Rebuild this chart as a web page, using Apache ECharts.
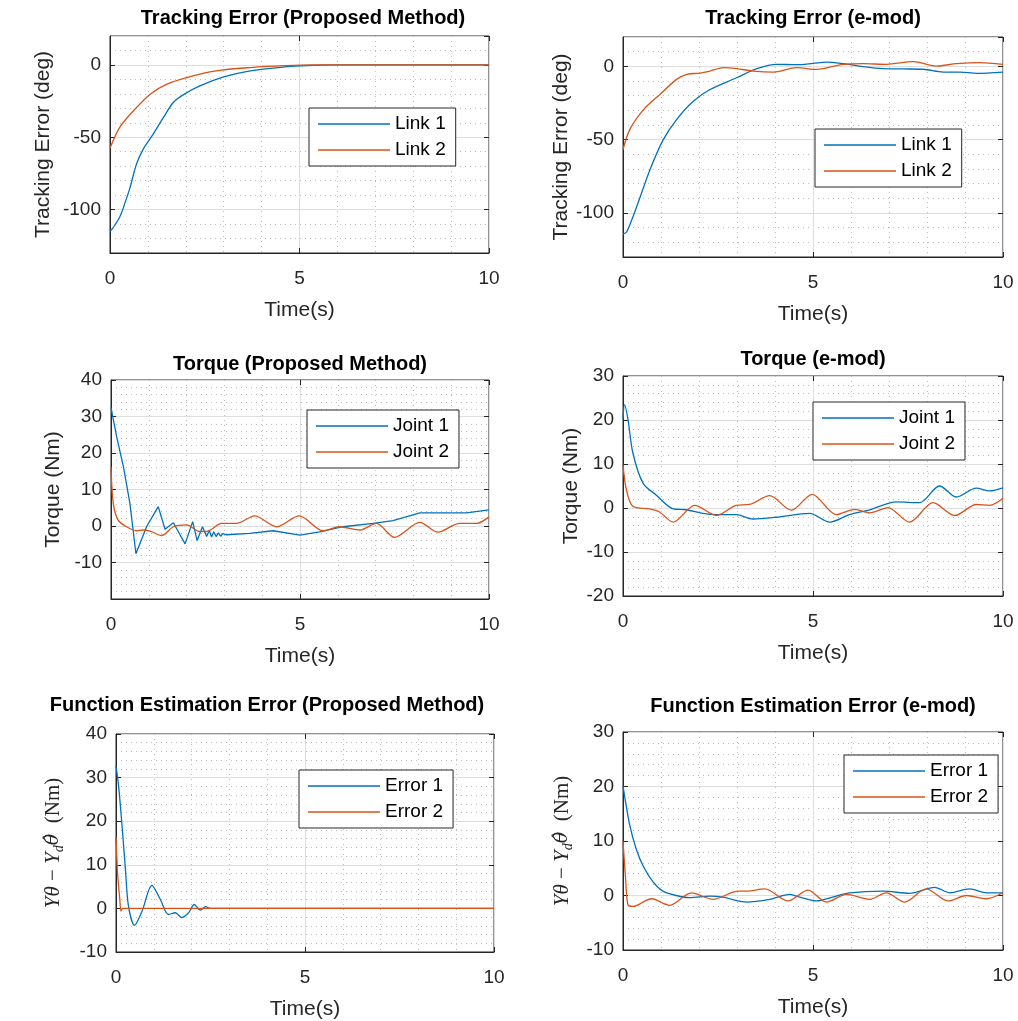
<!DOCTYPE html>
<html>
<head>
<meta charset="utf-8">
<script src="https://cdn.jsdelivr.net/npm/echarts@6/dist/echarts.min.js"></script>
<style>
html, body { margin: 0; padding: 0; background: #fff; }
#chart { width: 1018px; height: 1021px; }
</style>
</head>
<body>
<div id="chart"></div>
<script>
// ---- data ----
// Tracking error, proposed method
var tA1 = [0, 0.07, 0.26, 0.4, 0.53, 0.7, 0.88, 1.14, 1.41, 1.67, 1.93, 2.37, 3.0, 3.7, 4.6, 5.2, 6, 10];
var link1A = [-115, -113, -105, -95, -84.6, -68.5, -58, -47.8, -36.3, -26, -20.7, -14.5, -8.3, -4.1, -1.4, -0.4, 0, 0];
var tA2 = [0, 0.26, 0.62, 1.06, 1.5, 2.02, 2.8, 3.7, 4.6, 5.5, 10];
var link2A = [-57.5, -43, -31.7, -20.2, -13.3, -8.7, -4.1, -1.8, -0.5, 0, 0];

// Tracking error, e-mod
var tB1 = [0, 0.1, 0.36, 0.71, 1.06, 1.41, 1.85, 2.29, 2.99, 3.52, 4.04, 4.57, 5.0, 5.36, 5.8, 6.32, 6.85, 7.38, 7.9, 8.43, 8.87, 9.31, 10];
var link1B = [-114.4, -112.8, -95.7, -70.5, -50, -36.3, -23.8, -15.8, -7.8, -1.6, 1.4, 1.1, 2.0, 2.9, 1.8, -0.2, -1.6, -1.8, -2.0, -3.9, -3.9, -4.8, -3.9];
var tB2 = [0, 0.18, 0.54, 0.97, 1.41, 1.68, 2.03, 2.29, 2.64, 2.99, 3.43, 3.96, 4.57, 5.1, 5.8, 6.32, 6.93, 7.64, 8.25, 8.78, 9.39, 10];
var link2B = [-56.8, -43, -29.5, -19.2, -8.9, -5.5, -4.6, -3.2, -0.9, -1.6, -3.2, -3.9, -0.9, -2.1, 1.4, 1.8, 1.4, 3.2, 0.2, 1.8, 2.5, 1.4];

// Torque, proposed method
var tC1 = [0, 0.15, 0.33, 0.5, 0.66, 0.94, 1.25, 1.43, 1.65, 1.96, 2.16, 2.28, 2.42, 2.53, 2.6, 2.66, 2.72, 2.78, 2.84, 2.9, 2.96, 3.06, 3.67, 4.29, 5.0, 5.52, 6.14, 6.93, 7.46, 8.17, 8.96, 9.4, 10];
var joint1C = [32.5, 24.4, 16.2, 6.2, -7.6, -0.2, 5.3, -0.9, 0.9, -4.9, 1.2, -4.0, -0.2, -2.9, -1.2, -3.0, -1.6, -2.9, -1.9, -2.8, -2.1, -2.4, -2.0, -1.3, -2.5, -1.6, -0.2, 0.7, 1.5, 3.6, 3.6, 3.6, 4.4];
var tC2 = [0, 0.06, 0.19, 0.41, 0.68, 0.85, 1.05, 1.34, 1.65, 2.0, 2.35, 2.53, 2.93, 3.32, 3.8, 4.38, 4.98, 5.61, 6.05, 6.58, 7.02, 7.5, 8.17, 8.65, 9.22, 9.67, 10];
var joint2C = [16.2, 6.2, 1.6, -0.2, -1.3, -1.1, -1.5, -2.6, -0.2, 0.3, -1.5, -1.5, 0.7, 0.7, 2.8, -0.2, 2.8, -1.3, -0.2, -1.1, 0.7, -3.1, 1.0, -1.7, 0.7, 0.7, 2.5];

// Torque, e-mod
var tD1 = [0, 0.04, 0.13, 0.26, 0.53, 0.88, 1.32, 1.67, 2.1, 2.46, 2.98, 3.42, 4.04, 4.91, 5.44, 5.96, 6.49, 7.19, 7.8, 8.33, 8.77, 9.3, 9.65, 10];
var joint1D = [20.2, 23.5, 20.2, 12.5, 5.6, 2.9, -0.2, -0.4, -1.2, -1.5, -1.5, -2.5, -2.1, -1.2, -3.2, -1.5, -0.4, 1.4, 1.2, 5.0, 2.5, 4.5, 3.9, 4.6];
var tD2 = [0, 0.09, 0.26, 0.7, 0.96, 1.32, 1.89, 2.46, 2.98, 3.33, 3.86, 4.43, 4.98, 5.61, 6.1, 6.49, 6.97, 7.54, 8.16, 8.73, 9.3, 9.65, 10];
var joint2D = [9.8, 4.1, 0.4, -0.2, -0.9, -3.2, 0.6, -1.7, 0.6, 0.8, 2.8, -0.5, 3.1, -1.5, -0.3, -1.1, 0.1, -3.2, 1.2, -1.7, 0.8, 0.6, 2.2];

// Function estimation error, proposed method
var tE1 = [0, 0.07, 0.16, 0.25, 0.33, 0.49, 0.69, 0.95, 1.17, 1.39, 1.57, 1.74, 1.92, 2.07, 2.23, 2.37, 2.49, 2.7, 10];
var error1E = [32.6, 28, 18.9, 8.9, 0.5, -3.9, -0.6, 5.3, 2.1, -1.4, -1.0, -2.1, -1.0, 0.9, -0.4, 0.4, 0, 0, 0];
var tE2 = [0, 0.04, 0.1, 0.13, 0.18, 10];
var error2E = [16.4, 8.2, 2.1, -0.6, 0, 0];

// Function estimation error, e-mod
var tF1 = [0, 0.18, 0.35, 0.53, 0.79, 1.05, 1.4, 1.75, 2.28, 2.63, 3.25, 3.86, 4.39, 4.56, 5.09, 5.61, 5.96, 6.84, 7.54, 8.2, 8.6, 9.12, 9.56, 10];
var error1F = [20.1, 12.8, 8.5, 5.4, 2.5, 0.8, 0, -0.4, -0.1, -0.3, -1.2, -0.7, 0.2, -0.1, -1.0, -0.1, 0.5, 0.8, 0.4, 1.5, 0.5, 1.2, 0.5, 0.5];
var tF2 = [0, 0.07, 0.13, 0.26, 0.75, 1.23, 1.8, 2.37, 3.03, 3.25, 3.73, 4.34, 4.87, 5.35, 5.88, 6.49, 6.93, 7.41, 7.98, 8.55, 9.04, 9.56, 10];
var error2F = [10, 2.9, -1.7, -2.0, -0.6, -1.8, 0.5, -0.7, 0.8, 0.8, 1.2, -1.0, 1.0, -1.2, 0.2, -0.7, 0.5, -1.2, 1.2, -1.0, 0, -0.6, 0.5];

var titles = ['Tracking Error (Proposed Method)', 'Tracking Error (e-mod)',
  'Torque (Proposed Method)', 'Torque (e-mod)',
  'Function Estimation Error (Proposed Method)', 'Function Estimation Error (e-mod)'];
var linkNames = ['Link 1', 'Link 2'];
var jointNames = ['Joint 1', 'Joint 2'];
var errorNames = ['Error 1', 'Error 2'];
var xTicks = [0, 5, 10];

// ---- layout / styling ----
var FONT = '"Liberation Sans", Arial, Helvetica, sans-serif';
var SERIF = '"Liberation Serif", "DejaVu Serif", serif';
var colors = ['#0072BD', '#D95319'];
var estName = '{i|Yθ}{n| − }{i|Y}{s|d}{h|θ̂}{n|  (Nm)}';
var estRich = {
  i: { fontFamily: SERIF, fontStyle: 'italic', fontSize: 21, color: '#262626' },
  h: { fontFamily: '"DejaVu Serif", serif', fontStyle: 'italic', fontSize: 19, color: '#262626' },
  n: { fontFamily: SERIF, fontSize: 21, color: '#262626' },
  s: { fontFamily: SERIF, fontStyle: 'italic', fontSize: 14, color: '#262626', padding: [12, 0, 0, 0] }
};

var panels = [
  { box: [110, 36, 379, 217], tc: [303, 18], yName: 'Tracking Error (deg)', yGap: 56, y: { min: -130, max: 20, splitNumber: 3 }, hideMin: true, hideMax: true, names: linkNames, data: [[tA1, link1A], [tA2, link2A]], smooth: [0.3, 0.3], legend: [309, 108] },
  { box: [623, 37, 380, 220], tc: [813, 18], yName: 'Tracking Error (deg)', yGap: 50, y: { min: -130, max: 20, splitNumber: 3 }, hideMin: true, hideMax: true, names: linkNames, data: [[tB1, link1B], [tB2, link2B]], smooth: [0.3, 0.3], legend: [815, 129] },
  { box: [111, 380, 378, 219], tc: [300, 364], yName: 'Torque (Nm)', yGap: 47, y: { min: -20, max: 40, interval: 10 }, hideMin: true, names: jointNames, data: [[tC1, joint1C], [tC2, joint2C]], smooth: [false, 0.3], legend: [307, 410] },
  { box: [623, 376, 380, 220], tc: [813, 359], yName: 'Torque (Nm)', yGap: 41, y: { min: -20, max: 30, interval: 10 }, names: jointNames, data: [[tD1, joint1D], [tD2, joint2D]], smooth: [0.3, 0.3], legend: [813, 402] },
  { box: [116, 734, 378, 218], tc: [267, 705], yName: estName, rich: true, yGap: 50, y: { min: -10, max: 40, interval: 10 }, names: errorNames, data: [[tE1, error1E], [tE2, error2E]], smooth: [0.3, 0.2], legend: [299, 770] },
  { box: [623, 732, 380, 218], tc: [813, 706], yName: estName, rich: true, yGap: 48, y: { min: -10, max: 30, interval: 10 }, names: errorNames, data: [[tF1, error1F], [tF2, error2F]], smooth: [0.3, 0.3], legend: [844, 755] }
];

var tickStyle = { inside: true, length: 5, lineStyle: { color: '#262626', width: 1 } };
var majorGrid = { show: true, lineStyle: { color: '#dedede', width: 1 } };
var minorGrid = { show: true, lineStyle: { color: '#bdbdbd', width: 1, type: [1, 4] } };

var option = {
  animation: false,
  backgroundColor: '#fff',
  title: [], grid: [], xAxis: [], yAxis: [], legend: [], series: []
};

panels.forEach(function (p, i) {
  option.grid.push({
    left: p.box[0], top: p.box[1], width: p.box[2], height: p.box[3],
    show: true, borderColor: '#262626', borderWidth: 1, backgroundColor: '#fff'
  });
  option.title.push({
    text: titles[i], left: p.tc[0], top: p.tc[1] - 10, textAlign: 'center', padding: 0,
    textStyle: { fontFamily: FONT, fontSize: 20, fontWeight: 'bold', color: '#000' }
  });

  // bottom + top x axes
  option.xAxis.push({
    type: 'value', gridIndex: i, min: xTicks[0], max: xTicks[2], interval: xTicks[1] - xTicks[0],
    name: 'Time(s)', nameLocation: 'middle', nameGap: 47,
    nameTextStyle: { fontFamily: FONT, fontSize: 21, color: '#262626' },
    axisLine: { onZero: false, lineStyle: { color: '#262626' } },
    axisTick: tickStyle,
    axisLabel: { margin: 16, fontFamily: FONT, fontSize: 19, color: '#262626' },
    splitLine: majorGrid,
    minorTick: { show: false, splitNumber: 5 },
    minorSplitLine: minorGrid
  });
  option.xAxis.push({
    type: 'value', gridIndex: i, position: 'top', min: xTicks[0], max: xTicks[2], interval: xTicks[1] - xTicks[0],
    axisLine: { show: false, onZero: false }, axisTick: tickStyle, axisLabel: { show: false }, splitLine: { show: false }
  });

  // left + right y axes
  var yMain = {
    type: 'value', gridIndex: i, min: p.y.min, max: p.y.max,
    name: p.yName, nameLocation: 'middle', nameGap: p.yGap, nameRotate: 90,
    nameTextStyle: p.rich ? { rich: estRich } : { fontFamily: FONT, fontSize: 21, color: '#262626' },
    axisLine: { onZero: false, lineStyle: { color: '#262626' } },
    axisTick: tickStyle,
    axisLabel: { margin: 9, fontFamily: FONT, fontSize: 19, color: '#262626',
      showMinLabel: !p.hideMin, showMaxLabel: !p.hideMax },
    splitLine: majorGrid,
    minorTick: { show: false, splitNumber: 5 },
    minorSplitLine: minorGrid
  };
  var ySide = {
    type: 'value', gridIndex: i, position: 'right', min: p.y.min, max: p.y.max,
    axisLine: { show: false, onZero: false }, axisTick: tickStyle, axisLabel: { show: false }, splitLine: { show: false }
  };
  if (p.y.interval) { yMain.interval = p.y.interval; ySide.interval = p.y.interval; }
  else { yMain.splitNumber = p.y.splitNumber; ySide.splitNumber = p.y.splitNumber; }
  option.yAxis.push(yMain, ySide);

  option.legend.push({
    data: p.names, orient: 'vertical', left: p.legend[0], top: p.legend[1],
    icon: 'rect', padding: [6, 10, 6, 9], itemGap: 6, itemWidth: 72, itemHeight: 1.5,
    borderColor: '#262626', borderWidth: 1, backgroundColor: '#fff', borderRadius: 0,
    selectedMode: false, z: 10,
    textStyle: { fontFamily: FONT, fontSize: 19, color: '#000', lineHeight: 20 }
  });

  p.data.forEach(function (d, k) {
    option.series.push({
      type: 'line', name: p.names[k], xAxisIndex: 2 * i, yAxisIndex: 2 * i,
      data: d[0].map(function (t, j) { return [t, d[1][j]]; }),
      symbol: 'none', showSymbol: false, smooth: p.smooth[k],
      lineStyle: { color: colors[k], width: 1.3 }, itemStyle: { color: colors[k] },
      clip: true
    });
  });
});

var chart = echarts.init(document.getElementById('chart'), null, { renderer: 'canvas' });
chart.setOption(option);
</script>
</body>
</html>
